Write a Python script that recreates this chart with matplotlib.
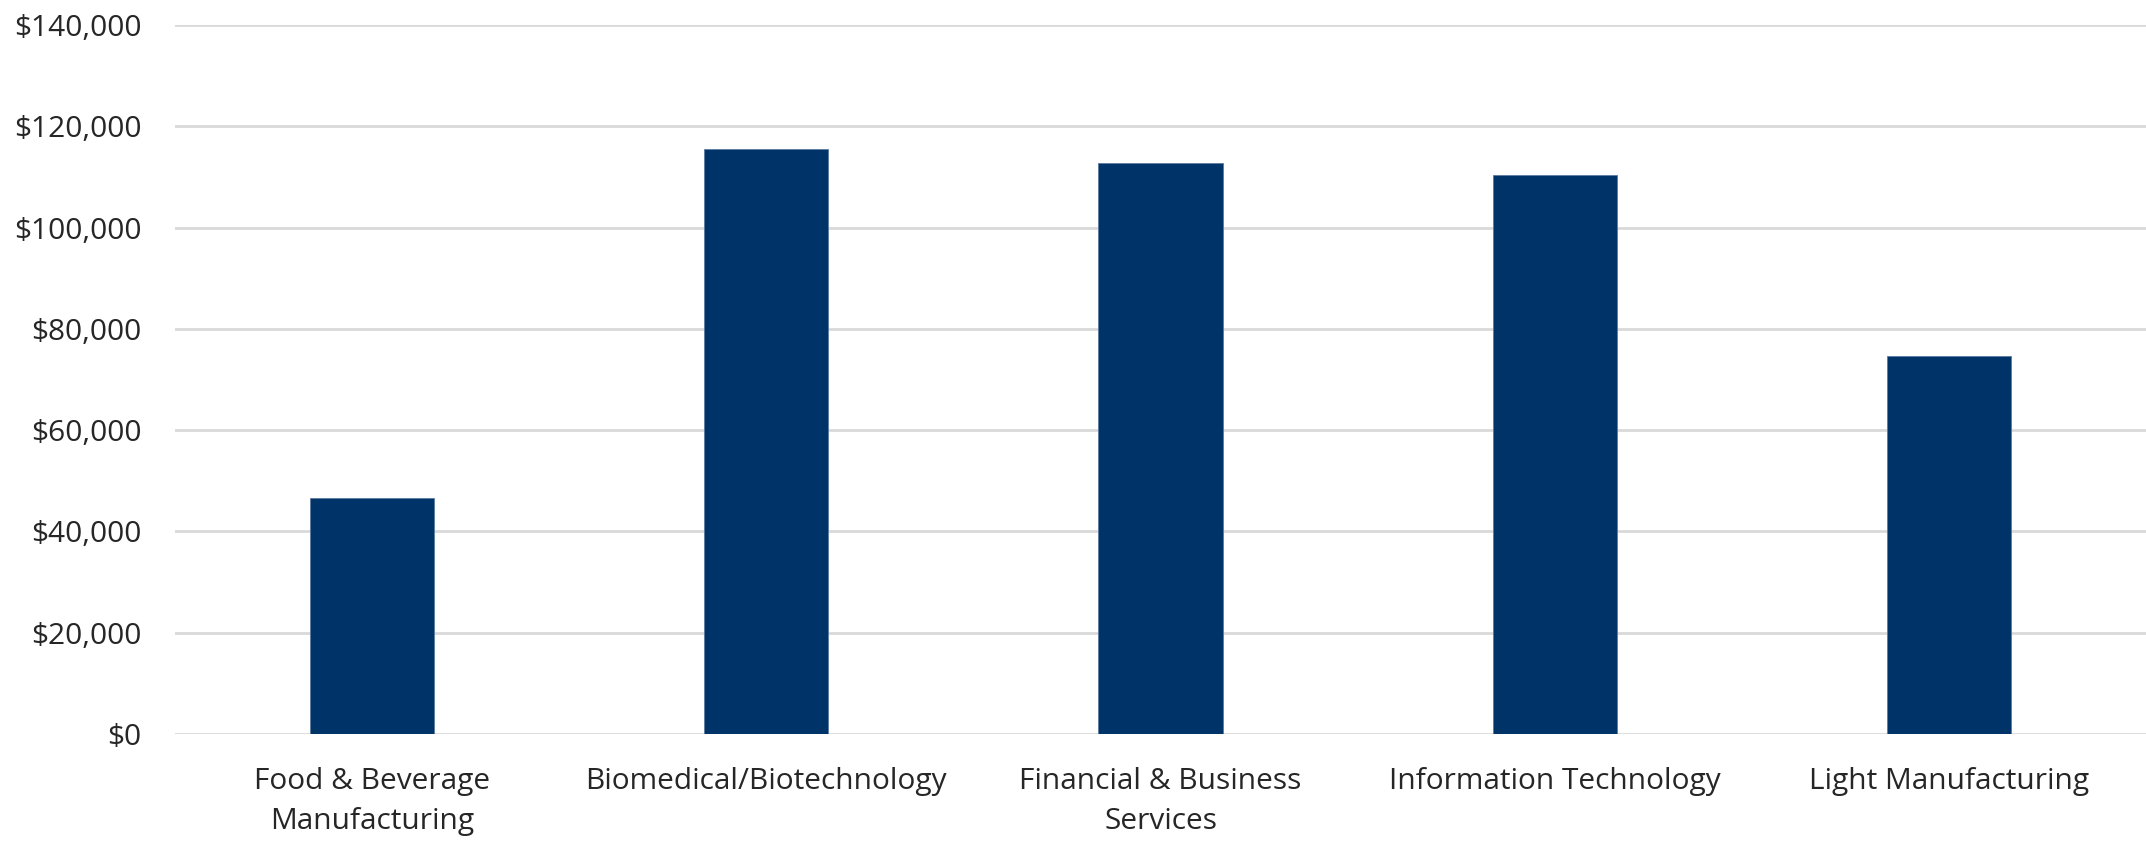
import matplotlib
matplotlib.use("Agg")
import matplotlib.pyplot as plt
from matplotlib.ticker import FuncFormatter, MultipleLocator

categories = ["Food & Beverage\nManufacturing", "Biomedical/Biotechnology",
              "Financial & Business\nServices", "Information Technology",
              "Light Manufacturing"]
values = [46600, 115500, 112700, 110400, 74700]

plt.rcParams['font.family'] = ['Open Sans', 'DejaVu Sans']

fig = plt.figure(figsize=(21.46, 8.41), dpi=100)
ax = fig.add_axes([175/2146, (841-734)/841, 1 - 175/2146, (734-25)/841])

x = list(range(len(categories)))
ax.bar(x, values, width=0.315, color="#003469", edgecolor="#5a7aa0", linewidth=0.6, zorder=3)

ax.set_xlim(-0.5, len(categories) - 0.5)
ax.set_ylim(0, 140000)
ax.yaxis.set_major_locator(MultipleLocator(20000))
ax.yaxis.set_major_formatter(FuncFormatter(lambda v, p: f"${v:,.0f}"))
ax.grid(axis='y', color="#d9d9d9", linewidth=2, zorder=0)
ax.set_axisbelow(True)
for s in ax.spines.values():
    s.set_visible(False)

ax.set_xticks(x)
ax.set_xticklabels(categories, linespacing=1.47)
ax.tick_params(axis='y', length=0, pad=24, labelsize=21.5, labelcolor="#262626")
ax.tick_params(axis='x', length=0, pad=24, labelsize=21.5, labelcolor="#262626")

fig.savefig("out.png", dpi=100, facecolor="white")
